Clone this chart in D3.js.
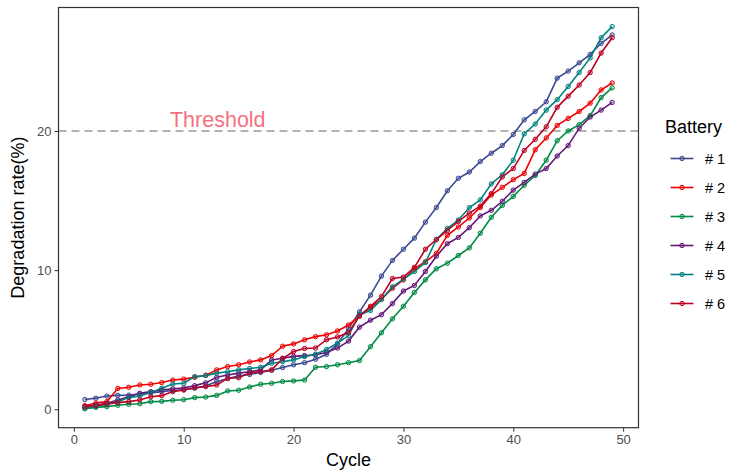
<!DOCTYPE html>
<html lang="en">
  <head>
    <meta charset="utf-8" />
    <title>Battery degradation</title>
    <script src="https://cdnjs.cloudflare.com/ajax/libs/d3/7.8.5/d3.min.js"></script>
    <style type="text/css">
      body { margin: 0; background: #fff; }
      text { font-family: "Liberation Sans", Arial, Helvetica, sans-serif; }
      .tick text { fill: #4d4d4d; font-size: 13px; }
      .tick line { stroke: #333; }
    </style>
  </head>

  <body>
    <script>
      const width = 729;
      const height = 471;
      const marginTop = 7.5;
      const marginRight = 90.5;
      const marginBottom = 43.3;
      const marginLeft = 58.5;

      // cycles 1..49
      const cycles = d3.range(1, 50);
      const batteries = ["# 1", "# 2", "# 3", "# 4", "# 5", "# 6"];
      const colors = ["#3B4992", "#EE0000", "#008B45", "#631879", "#008280", "#BB0021"];
      const threshold = 20;
      const xTicks = [0, 10, 20, 30, 40, 50];
      const yTicks = [0, 10, 20];

      const battery1 = [0.7, 0.8, 0.95, 1.0, 1.02, 1.1, 1.17, 1.27, 1.35, 1.4, 1.52, 1.68, 2.0, 2.2, 2.4, 2.5, 2.65, 2.8, 3.0, 3.2,
        3.35, 3.6, 3.95, 4.7, 5.8, 7.0, 8.2, 9.57, 10.7, 11.5, 12.3, 13.45, 14.5, 15.7, 16.6, 17.05, 17.8, 18.4, 18.95, 19.75,
        20.8, 21.4, 22.1, 23.8, 24.3, 24.9, 25.5, 26.3, 26.9];
      const battery2 = [0.26, 0.45, 0.55, 1.5, 1.58, 1.75, 1.8, 1.92, 2.1, 2.17, 2.3, 2.45, 2.83, 3.07, 3.2, 3.4, 3.55, 3.86, 4.53, 4.7,
        4.99, 5.22, 5.35, 5.63, 6.06, 6.7, 7.3, 7.9, 8.7, 9.3, 10.1, 10.6, 11.2, 12.5, 13.1, 13.75, 14.5, 15.4, 15.95, 16.5,
        16.95, 18.65, 19.5, 20.4, 20.9, 21.4, 22.0, 22.95, 23.45];
      const battery3 = [0.05, 0.14, 0.19, 0.29, 0.36, 0.4, 0.55, 0.57, 0.65, 0.69, 0.84, 0.88, 1.0, 1.32, 1.37, 1.6, 1.8, 1.87, 2.0, 2.04,
        2.1, 3.02, 3.07, 3.2, 3.35, 3.5, 4.5, 5.5, 6.5, 7.4, 8.4, 9.3, 10.1, 10.5, 11.05, 11.6, 12.65, 13.8, 14.65, 15.3,
        16.1, 16.8, 17.9, 19.3, 20.0, 20.45, 21.1, 22.4, 23.1];
      const battery4 = [0.19, 0.31, 0.43, 0.67, 0.9, 1.15, 1.27, 1.39, 1.48, 1.53, 1.7, 1.9, 2.3, 2.47, 2.6, 2.7, 2.83, 3.55, 3.67, 3.8,
        3.86, 3.9, 4.1, 4.4, 4.9, 5.9, 6.4, 6.8, 7.6, 8.5, 8.9, 9.9, 11.0, 11.9, 12.35, 13.05, 13.9, 14.3, 14.95, 15.75,
        16.3, 16.9, 17.3, 18.2, 18.95, 20.2, 21.0, 21.5, 22.05];
      const battery5 = [0.05, 0.2, 0.36, 0.55, 0.84, 0.95, 1.2, 1.51, 1.82, 1.87, 2.35, 2.42, 2.6, 2.7, 2.83, 2.93, 3.02, 3.31, 3.42, 3.55,
        3.79, 3.96, 4.3, 4.75, 5.3, 6.8, 7.1, 7.9, 8.8, 9.35, 9.9, 10.55, 12.2, 13.0, 13.6, 14.5, 15.05, 16.2, 16.85, 17.9,
        19.8, 20.5, 21.5, 22.25, 23.2, 24.2, 25.25, 26.7, 27.5];
      const battery6 = [0.19, 0.26, 0.38, 0.48, 0.55, 0.67, 0.9, 0.98, 1.27, 1.39, 1.55, 1.63, 1.75, 2.23, 2.27, 2.62, 2.7, 2.83, 3.65, 4.15,
        4.37, 4.4, 5.0, 5.2, 5.52, 6.7, 7.4, 8.1, 9.4, 9.5, 10.2, 11.5, 12.2, 12.85, 13.5, 14.1, 14.6, 15.5, 16.7, 17.3,
        18.6, 19.4, 20.3, 21.7, 22.5, 23.3, 24.2, 25.6, 26.7];

      const values = [battery1, battery2, battery3, battery4, battery5, battery6];
      const series = batteries.map((name, i) => ({
        name,
        color: colors[i],
        points: cycles.map((c, j) => ({ cycle: c, rate: values[i][j] }))
      }));

      // ggplot style 5% expansion
      const xExt = d3.extent(cycles);
      const xPad = (xExt[1] - xExt[0]) * 0.05;
      const allRates = values.flat();
      const yExt = d3.extent(allRates);
      const yPad = (yExt[1] - yExt[0]) * 0.05;

      const x = d3.scaleLinear([xExt[0] - xPad, xExt[1] + xPad], [marginLeft, width - marginRight]);
      const y = d3.scaleLinear([yExt[0] - yPad, yExt[1] + yPad], [height - marginBottom, marginTop]);

      const line = d3.line()
        .x(d => x(d.cycle))
        .y(d => y(d.rate));

      const svg = d3.select('body').append('svg')
        .attr('width', width)
        .attr('height', height)
        .attr('viewBox', [0, 0, width, height]);

      // threshold line and label
      svg.append('line')
        .attr('x1', marginLeft)
        .attr('x2', width - marginRight)
        .attr('y1', y(threshold))
        .attr('y2', y(threshold))
        .attr('stroke', '#999')
        .attr('stroke-width', 1.4)
        .attr('stroke-dasharray', '8,5');

      svg.append('text')
        .attr('x', x(13.1))
        .attr('y', y(threshold) - 4)
        .attr('text-anchor', 'middle')
        .attr('fill', '#f4717f')
        .attr('font-size', 21.5)
        .text('Threshold');

      // lines first, then points
      svg.append('g')
        .selectAll('path')
        .data(series)
        .join('path')
        .attr('fill', 'none')
        .attr('stroke', d => d.color)
        .attr('stroke-width', 1.6)
        .attr('d', d => line(d.points));

      svg.append('g')
        .selectAll('g')
        .data(series)
        .join('g')
        .attr('stroke', d => d.color)
        .attr('fill', d => d.color)
        .selectAll('circle')
        .data(d => d.points)
        .join('circle')
        .attr('cx', d => x(d.cycle))
        .attr('cy', d => y(d.rate))
        .attr('r', 2.2)
        .attr('fill-opacity', 0.25)
        .attr('stroke-width', 1);

      // axes
      svg.append('g')
        .attr('transform', `translate(0, ${height - marginBottom})`)
        .call(d3.axisBottom(x).tickValues(xTicks).tickSize(4).tickPadding(3).tickSizeOuter(0))
        .call(g => g.select('.domain').remove());

      svg.append('g')
        .attr('transform', `translate(${marginLeft}, 0)`)
        .call(d3.axisLeft(y).tickValues(yTicks).tickSize(4).tickPadding(3).tickSizeOuter(0))
        .call(g => g.select('.domain').remove());

      // panel border
      svg.append('rect')
        .attr('x', marginLeft)
        .attr('y', marginTop)
        .attr('width', width - marginLeft - marginRight)
        .attr('height', height - marginTop - marginBottom)
        .attr('fill', 'none')
        .attr('stroke', '#333')
        .attr('stroke-width', 1.2);

      // axis titles
      svg.append('text')
        .attr('x', x(25))
        .attr('y', 466)
        .attr('text-anchor', 'middle')
        .attr('font-size', 18)
        .attr('fill', '#000')
        .text('Cycle');

      svg.append('text')
        .attr('transform', `translate(24, ${(marginTop + height - marginBottom) / 2}) rotate(-90)`)
        .attr('text-anchor', 'middle')
        .attr('font-size', 18)
        .attr('fill', '#000')
        .text('Degradation rate(%)');

      // legend
      const legend = svg.append('g');
      legend.append('text')
        .attr('x', 665)
        .attr('y', 133)
        .attr('font-size', 18)
        .attr('fill', '#000')
        .text('Battery');

      const item = legend.selectAll('g')
        .data(series)
        .join('g')
        .attr('transform', (d, i) => `translate(0, ${158.5 + i * 29})`);
      item.append('line')
        .attr('x1', 670.5)
        .attr('x2', 693.5)
        .attr('stroke', d => d.color)
        .attr('stroke-width', 1.6);
      item.append('circle')
        .attr('cx', 682)
        .attr('r', 2.2)
        .attr('stroke', d => d.color)
        .attr('fill', d => d.color)
        .attr('fill-opacity', 0.25);
      item.append('text')
        .attr('x', 705)
        .attr('y', 5.5)
        .attr('font-size', 14.5)
        .attr('fill', '#000')
        .text(d => d.name);
    </script>
  </body>
</html>
